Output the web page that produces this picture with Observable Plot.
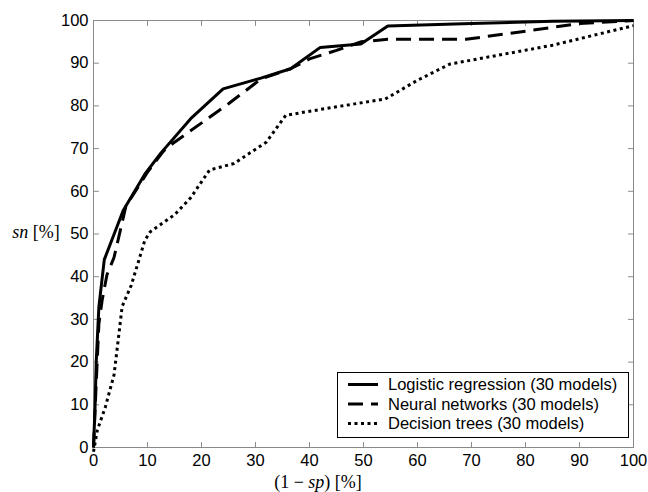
<!DOCTYPE html>
<html><head><meta charset="utf-8">
<script src="https://cdn.jsdelivr.net/npm/d3@7"></script>
<script src="https://cdn.jsdelivr.net/npm/@observablehq/plot@0.6"></script>
<style>body{margin:0;background:#fff}#wrap{width:648px;height:492px}</style>
</head><body><div id="wrap"></div>
<script>
// Logistic regression (solid)
const lrX = [0, 0.3, 0.5, 1, 2, 5.5, 9.5, 12.5, 18, 24, 31, 36.5, 42, 49.5, 54.5, 70, 85, 100];
const lrY = [0, 10, 20, 33, 44, 55.5, 64, 69, 77, 84, 86.5, 88.7, 93.7, 94.5, 98.7, 99.3, 99.8, 100];
// Neural networks (dashed)
const nnX = [0, 0.5, 1, 1.6, 2.5, 3.8, 6, 10, 13, 15, 25, 31, 36.5, 40, 45, 49.5, 54.5, 69, 80, 90, 100];
const nnY = [0, 15, 29, 34.5, 40.5, 44.5, 56.5, 64.5, 69.5, 71.5, 80.5, 86.3, 88.7, 91, 93, 95, 95.6, 95.6, 97.5, 99.3, 100];
// Decision trees (dotted)
const dtX = [0, 0.7, 2.2, 3.8, 4.7, 5.3, 7, 9.5, 10.5, 15, 18, 21.5, 26, 29, 32, 35.6, 45, 54, 60, 66, 85, 100];
const dtY = [-1, 4, 9.5, 17, 26.5, 33, 38, 48.5, 50.5, 54.5, 58.5, 65, 66.5, 69, 71.5, 77.8, 79.8, 81.6, 86, 89.8, 94.2, 98.8];

const seriesNames = ["Logistic regression (30 models)", "Neural networks (30 models)", "Decision trees (30 models)"];
const seriesDash = [null, "15,8", "3,3.5"];
const xTicks = [0, 10, 20, 30, 40, 50, 60, 70, 80, 90, 100];
const yTicks = [0, 10, 20, 30, 40, 50, 60, 70, 80, 90, 100];

const toRows = (xs, ys) => xs.map((x, i) => ({x, y: ys[i]}));
const lr = toRows(lrX, lrY), nn = toRows(nnX, nnY), dt = toRows(dtX, dtY);

const gray = "#8a8a8a";
const sans = "'Liberation Sans', Arial, Helvetica, sans-serif";
const serif = "'Liberation Serif', 'Times New Roman', serif";
const lineOpts = (i) => ({x: "x", y: "y", stroke: "black", strokeWidth: 3, strokeDasharray: seriesDash[i] ?? undefined, strokeLinecap: "butt", strokeLinejoin: "miter", curve: "linear"});
const tickShape = {draw(c, l) { c.moveTo(0, 0); c.lineTo(0, -l); }};
const tickOpts = (anchorFrame, rot, ch) => ({[ch]: d => d, frameAnchor: anchorFrame, rotate: rot, length: 5, anchor: "start", shape: tickShape, stroke: gray, strokeWidth: 1});

const plot = Plot.plot({
  width: 648, height: 492,
  marginLeft: 93, marginRight: 15, marginTop: 20, marginBottom: 45,
  style: {fontFamily: sans, fontSize: "16.5px", background: "#fff", color: "#000", overflow: "visible"},
  x: {domain: [0, 100], label: null},
  y: {domain: [0, 100], label: null},
  marks: [
    Plot.axisX(xTicks, {anchor: "bottom", tickSize: 0, tickPadding: 7, label: null, fill: "#000"}),
    Plot.axisY(yTicks, {anchor: "left", tickSize: 0, tickPadding: 5, label: null, fill: "#000"}),
    Plot.vector(xTicks, tickOpts("bottom", 0, "x")),
    Plot.vector(xTicks, tickOpts("top", 180, "x")),
    Plot.vector(yTicks, tickOpts("left", 90, "y")),
    Plot.vector(yTicks, tickOpts("right", -90, "y")),
    Plot.frame({stroke: gray}),
    Plot.line(dt, lineOpts(2)),
    Plot.line(nn, lineOpts(1)),
    Plot.line(lr, lineOpts(0))
  ]
});
document.getElementById("wrap").appendChild(plot);

const svg = d3.select(plot);
// axis labels
const yl = svg.append("text").attr("x", 36).attr("y", 238).attr("text-anchor", "middle")
  .style("font-family", serif).style("font-size", "18px");
yl.append("tspan").style("font-style", "italic").text("sn");
yl.append("tspan").text(" [%]");
const xl = svg.append("text").attr("x", 318).attr("y", 488).attr("text-anchor", "middle")
  .style("font-family", serif).style("font-size", "18px");
xl.append("tspan").text("(1 \u2212 ");
xl.append("tspan").style("font-style", "italic").text("sp");
xl.append("tspan").text(") [%]");

// legend
const lg = svg.append("g");
lg.append("rect").attr("x", 337.5).attr("y", 372.5).attr("width", 291).attr("height", 65)
  .attr("fill", "#fff").attr("stroke", "#000").attr("stroke-width", 1);
seriesNames.forEach((name, i) => {
  const yy = 384.5 + i * 19.5;
  lg.append("line").attr("x1", 348).attr("x2", 378).attr("y1", yy).attr("y2", yy)
    .attr("stroke", "#000").attr("stroke-width", 3)
    .attr("stroke-dasharray", seriesDash[i]);
  lg.append("text").attr("x", 388).attr("y", yy).attr("dy", "0.35em").attr("text-anchor", "start")
    .style("font-family", sans).style("font-size", "16.5px").text(name);
});
</script>
</body></html>
